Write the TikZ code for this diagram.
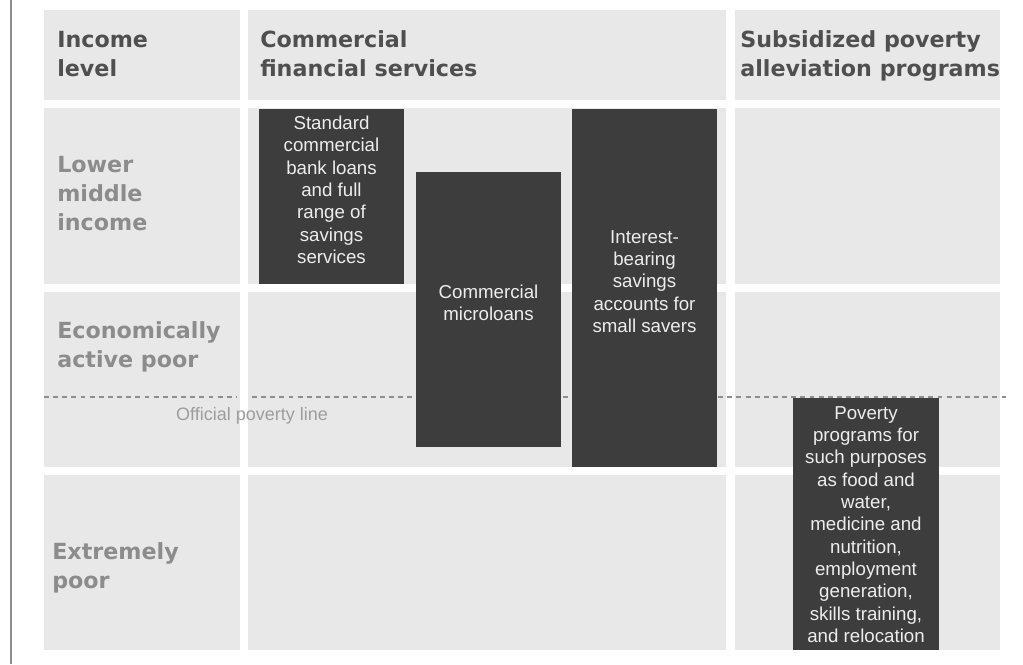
\documentclass[tikz,border=0pt]{standalone}
\usepackage{fontspec}
\setmainfont{Liberation Sans}
\newfontfamily\headfont{DejaVu Sans}
\usetikzlibrary{positioning,fit}
\definecolor{cellgray}{HTML}{E8E8E8}
\definecolor{boxgray}{HTML}{3D3D3D}
\definecolor{boxtext}{HTML}{EDEDED}
\definecolor{headgray}{HTML}{4F4F4F}
\definecolor{lvlgray}{HTML}{8C8C8C}
\definecolor{linegray}{HTML}{8E8E8E}

\begin{document}
\begin{tikzpicture}[x=0.025cm, y=-0.025cm,
    cell/.style={fill=cellgray},
    head/.style={anchor=base west,align=left,inner sep=0pt,text=headgray,font=\headfont\bfseries\fontsize{15.8}{20.6}\selectfont},
    lvl/.style={head,text=lvlgray},
    prog/.style={fill=boxgray,text=boxtext,align=center,inner sep=0pt,font=\fontsize{13.3}{15.9}\selectfont},
    povline/.style={linegray,line width=1.1pt,dash pattern=on 3.5pt off 3pt}]
  \useasboundingbox[fill=white] (0,0) rectangle (1023,664);
  \draw[linegray,line width=1.4pt] (11,0) -- (11,664);

  \foreach \xa/\xb in {44/240,248/726,735/1000}
    \foreach \ya/\yb in {10/100,108/284,292/467,475/650}
      \fill[cell] (\xa,\ya) rectangle (\xb,\yb);

  % base anchor sits on the last line
  \node[head] (income) at (57,76) {Income\\level};
  \node[head] (comm) at (260,76) {Commercial\\financial services};
  \node[head] (subs) at (740,76) {Subsidized poverty\\alleviation programs};

  \node[lvl] (lmi) at (57,230) {Lower\\middle\\income};
  \node[lvl] (eap) at (57,367) {Economically\\active poor};
  \node[lvl] (exp) at (52,588) {Extremely\\poor};

  \draw[povline] (44,397) -- (236,397);
  \draw[povline] (252,397) -- (1010,397);
  \node[anchor=base,inner sep=0pt,text=lvlgray!85,font=\fontsize{12.8}{15}\selectfont] (pline) at (252,420) {Official poverty line};

  \node[prog,fit={(259,109) (404,284)}] (std) {Standard\\commercial\\bank loans\\and full\\range of\\savings\\services};
  \node[prog,fit={(416,172) (561,447)}] (micro) {Commercial\\microloans\\[12pt]};
  \node[prog,fit={(572,109) (717,467)}] (save) {Interest-\\bearing\\savings\\accounts for\\small savers\\[18pt]};
  \node[prog,fit={(793,398) (939,650)}] (pov) {\\[-6pt]Poverty\\programs for\\such purposes\\as food and\\water,\\medicine and\\nutrition,\\employment\\generation,\\skills training,\\and relocation};
\end{tikzpicture}
\end{document}
